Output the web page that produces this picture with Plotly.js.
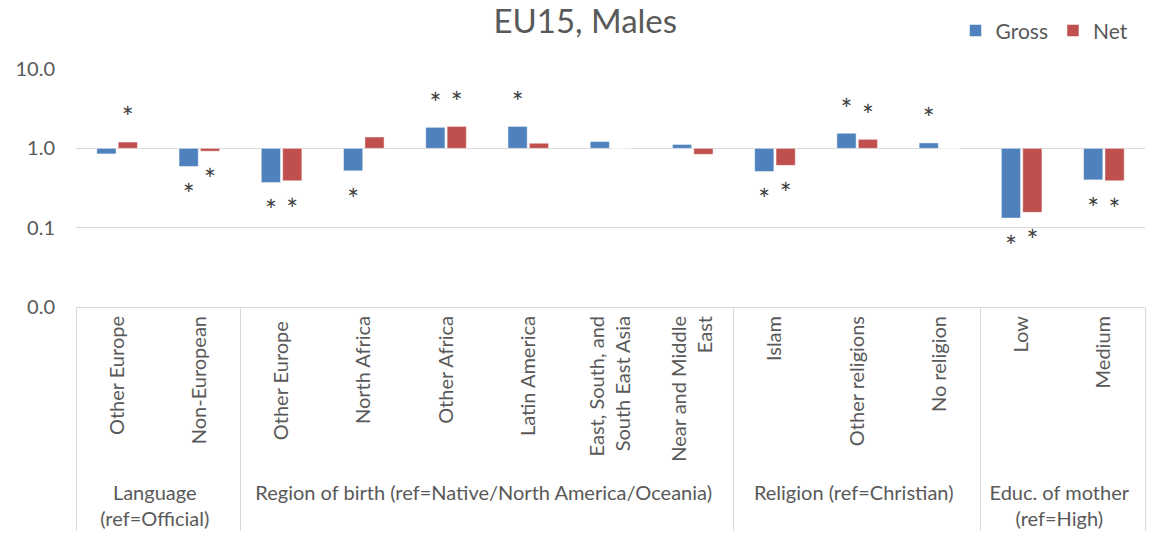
<!DOCTYPE html>
<html>
<head>
<meta charset="utf-8">
<script src="https://cdn.plot.ly/plotly-3.0.1.min.js"></script>
<style>
  html, body { margin: 0; padding: 0; background: #fff; }
  #chart { width: 1159px; height: 541px; }
</style>
</head>
<body>
<div id="chart"></div>
<script>
// group / category labels (two-level x axis)
var groups = [
    'Language<br>(ref=Official)', 'Language<br>(ref=Official)',
    'Region of birth (ref=Native/North America/Oceania)', 'Region of birth (ref=Native/North America/Oceania)',
    'Region of birth (ref=Native/North America/Oceania)', 'Region of birth (ref=Native/North America/Oceania)',
    'Region of birth (ref=Native/North America/Oceania)', 'Region of birth (ref=Native/North America/Oceania)',
    'Religion (ref=Christian)', 'Religion (ref=Christian)', 'Religion (ref=Christian)',
    'Educ. of mother<br>(ref=High)', 'Educ. of mother<br>(ref=High)'
];
var categories = [
    'Other Europe', 'Non-European',
    'Other Europe ', 'North Africa', 'Other Africa', 'Latin America',
    'East, South, and<br>South East Asia', 'Near and Middle<br>East',
    'Islam', 'Other religions', 'No religion',
    'Low', 'Medium'
];

// odds ratios
var gross = [0.85, 0.59, 0.37, 0.52, 1.84, 1.89, 1.22, 1.12, 0.51, 1.55, 1.17, 0.132, 0.40];
var net   = [1.20, 0.92, 0.39, 1.39, 1.89, 1.16, 1.00, 0.84, 0.61, 1.30, 1.00, 0.156, 0.39];

// significance markers (*)
var grossSig = [false, true, true, true, true, true, false, false, true, true, true, true, true];
var netSig   = [true, true, true, false, true, false, false, false, true, true, false, true, true];

var blue = '#4f81bd';
var red = '#c0504d';
var grey = '#595959';
var font = 'Lato, "Open Sans", sans-serif';

// bars hang from 1.0 on the log axis
function barTrace(name, vals, color, grp) {
    return {
        type: 'bar',
        name: name,
        x: [groups, categories],
        y: vals.map(function(v) { return v - 1; }),
        base: 1,
        offsetgroup: grp,
        marker: {color: color, line: {color: '#ffffff', width: 0.5}},
        hoverinfo: 'skip'
    };
}

// star sits above a bar going up, below a bar going down
function starTrace(vals, sig, grp) {
    var gx = [], cx = [], yy = [];
    vals.forEach(function(v, i) {
        if (!sig[i]) return;
        gx.push(groups[i]);
        cx.push(categories[i]);
        yy.push(v >= 1 ? v * Math.pow(10, 0.26) : v / Math.pow(10, 0.40));
    });
    return {
        type: 'scatter',
        mode: 'text',
        x: [gx, cx],
        y: yy,
        text: yy.map(function() { return '*'; }),
        textposition: 'middle center',
        textfont: {size: 28, color: '#404040', family: font},
        offsetgroup: grp,
        showlegend: false,
        hoverinfo: 'skip'
    };
}

var data = [
    barTrace('Gross', gross, blue, 'g'),
    barTrace('Net', net, red, 'n'),
    starTrace(gross, grossSig, 'g'),
    starTrace(net, netSig, 'n')
];

var layout = {
    width: 1159,
    height: 541,
    margin: {l: 76, r: 14, t: 69, b: 234},
    paper_bgcolor: '#ffffff',
    plot_bgcolor: '#ffffff',
    font: {family: font, color: grey, size: 19},
    title: {
        text: 'EU15, Males',
        font: {size: 33, color: grey},
        x: 0.505,
        xanchor: 'center',
        y: 0.96,
        yanchor: 'middle'
    },
    barmode: 'group',
    scattermode: 'group',
    bargap: 0.48,
    bargroupgap: 0.1,
    legend: {
        orientation: 'h',
        xref: 'container',
        yref: 'container',
        x: 0.978,
        xanchor: 'right',
        y: 0.943,
        yanchor: 'middle',
        font: {size: 21, color: grey},
        itemwidth: 30
    },
    xaxis: {
        type: 'multicategory',
        tickangle: -90,
        tickfont: {size: 20, color: grey},
        showline: true,
        linecolor: '#d9d9d9',
        linewidth: 1,
        showdividers: true,
        dividercolor: '#d9d9d9',
        dividerwidth: 1,
        ticks: '',
        showgrid: false,
        automargin: false
    },
    yaxis: {
        type: 'log',
        range: [-2, 1],
        tickvals: [0.01, 0.1, 1, 10],
        ticktext: ['0.0', '0.1', '1.0', '10.0'],
        tickfont: {size: 20, color: grey},
        ticklabelstandoff: 20,
        gridcolor: '#d9d9d9',
        gridwidth: 1.5,
        zeroline: false,
        showline: false,
        ticks: '',
        automargin: false
    },
    showlegend: true
};

Plotly.newPlot('chart', data, layout, {displayModeBar: false, staticPlot: true});
</script>
</body>
</html>
